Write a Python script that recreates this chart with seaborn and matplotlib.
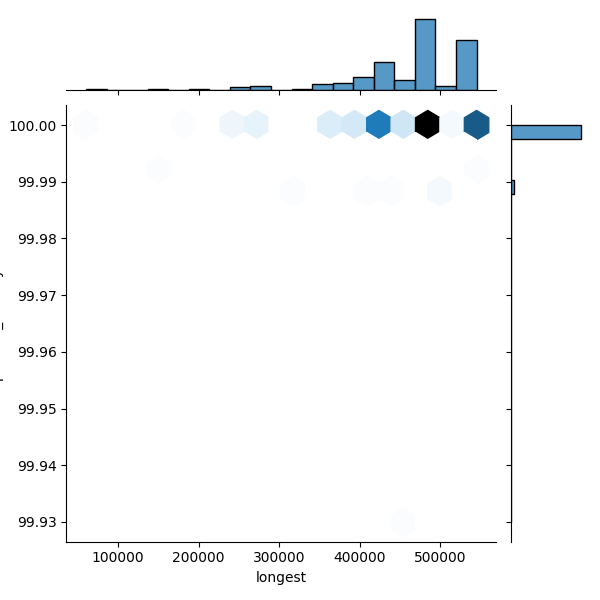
import numpy as np
import pandas as pd
import seaborn as sns
import matplotlib
matplotlib.use("Agg")
import matplotlib.pyplot as plt

x_100 = [60000, 190000, 255000, 285000, 350000, 380000, 410000, 432000, 455000, 480000, 505000, 535000]
n_100 = [1, 1, 3, 4, 6, 7, 12, 28, 8, 70, 2, 48]
x_9999 = [155000, 320000, 412000, 445000, 508000, 508000, 545000]
x_9993 = [445000]

xs = list(np.repeat(x_100, n_100)) + x_9999 + x_9993
ys = [100.00] * sum(n_100) + [99.99] * len(x_9999) + [99.93] * len(x_9993)
df = pd.DataFrame({"longest": xs, "percent_identity": ys})

g = sns.jointplot(data=df, x="longest", y="percent_identity", kind="hex", height=6)
g.ax_joint.yaxis.set_major_formatter(matplotlib.ticker.FormatStrFormatter("%.2f"))
g.figure.set_size_inches(6, 6)
g.figure.savefig("out.png", dpi=100)
